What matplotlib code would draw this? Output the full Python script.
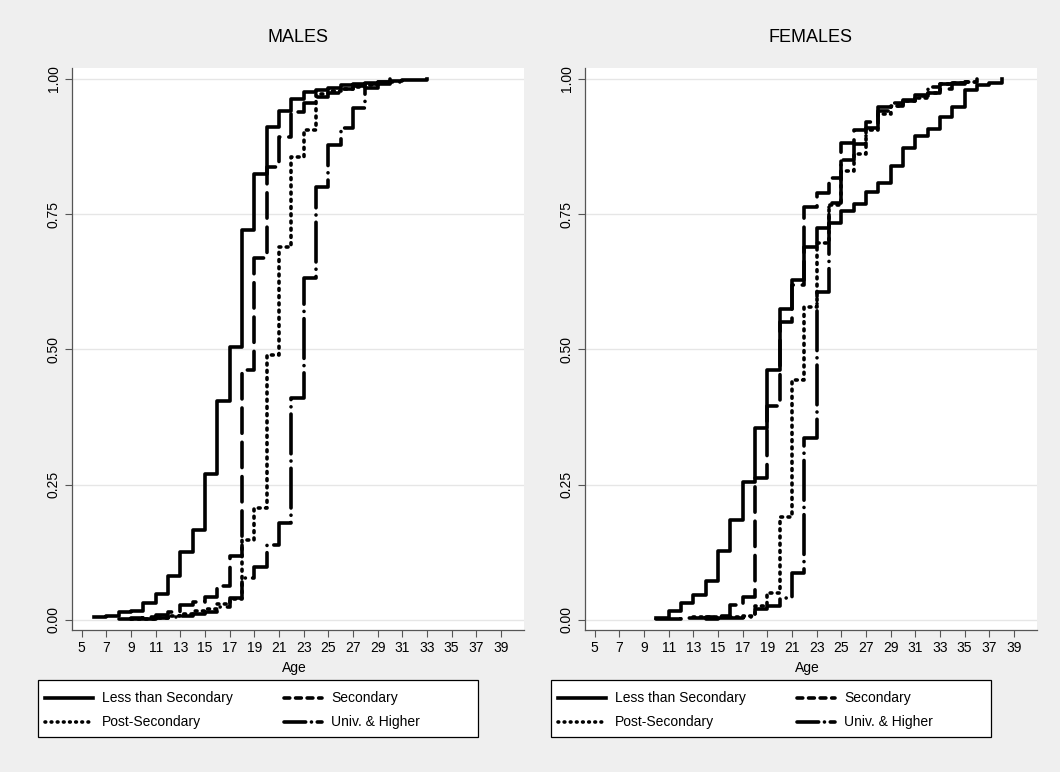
import matplotlib
matplotlib.use("Agg")
import matplotlib.pyplot as plt
from matplotlib.lines import Line2D
from matplotlib.patches import Rectangle

plt.rcParams['font.family'] = ['Liberation Sans', 'DejaVu Sans']

# ---- data: cumulative share by age -------------------------------------
male_less_age = list(range(6, 34))
male_less = [0.006, 0.008, 0.015, 0.016, 0.031, 0.048, 0.081, 0.126, 0.166,
             0.270, 0.405, 0.505, 0.720, 0.824, 0.911, 0.940, 0.963, 0.976,
             0.980, 0.984, 0.988, 0.991, 0.993, 0.995, 0.997, 0.998, 0.999,
             1.000]

male_sec_age = list(range(8, 31))
male_sec = [0.002, 0.003, 0.006, 0.009, 0.014, 0.027, 0.034, 0.043, 0.062,
            0.118, 0.462, 0.669, 0.837, 0.893, 0.939, 0.955, 0.967, 0.975,
            0.982, 0.987, 0.991, 0.995, 1.000]

male_post_age = list(range(9, 31))
male_post = [0.001, 0.002, 0.004, 0.007, 0.011, 0.016, 0.020, 0.030, 0.039,
             0.148, 0.207, 0.490, 0.690, 0.855, 0.905, 0.972, 0.977, 0.981,
             0.985, 0.989, 0.993, 0.996]

male_univ_age = list(range(9, 32))
male_univ = [0.001, 0.002, 0.003, 0.005, 0.008, 0.011, 0.015, 0.024, 0.040,
             0.077, 0.098, 0.138, 0.180, 0.410, 0.632, 0.800, 0.878, 0.909,
             0.946, 0.983, 0.990, 0.995, 1.000]

fem_less_age = list(range(10, 39))
fem_less = [0.004, 0.017, 0.031, 0.046, 0.072, 0.128, 0.185, 0.255, 0.355,
            0.462, 0.575, 0.628, 0.689, 0.725, 0.734, 0.756, 0.769, 0.791,
            0.808, 0.839, 0.872, 0.894, 0.907, 0.930, 0.949, 0.980, 0.989,
            0.993, 1.000]

fem_sec_age = list(range(10, 37))
fem_sec = [0.002, 0.002, 0.003, 0.004, 0.005, 0.008, 0.027, 0.043, 0.262,
           0.395, 0.550, 0.620, 0.763, 0.789, 0.817, 0.881, 0.906, 0.920,
           0.948, 0.955, 0.962, 0.968, 0.975, 0.982, 0.990, 0.995, 1.000]

fem_post_age = list(range(13, 37))
fem_post = [0.005, 0.005, 0.006, 0.006, 0.007, 0.025, 0.050, 0.190, 0.443,
            0.578, 0.697, 0.767, 0.830, 0.862, 0.905, 0.935, 0.950, 0.960,
            0.965, 0.975, 0.990, 0.993, 0.995, 1.000]

fem_univ_age = list(range(14, 37))
fem_univ = [0.002, 0.003, 0.004, 0.006, 0.020, 0.025, 0.040, 0.087, 0.336,
            0.606, 0.770, 0.850, 0.880, 0.910, 0.940, 0.950, 0.960, 0.970,
            0.985, 0.990, 0.992, 0.995, 1.000]

series_labels = ["Less than Secondary", "Secondary", "Post-Secondary",
                 "Univ. & Higher"]
panel_titles = ["MALES", "FEMALES"]
x_ticks = list(range(5, 40, 2))
y_ticks = [0.0, 0.25, 0.5, 0.75, 1.0]
y_ticklabels = ["0.00", "0.25", "0.50", "0.75", "1.00"]

# ---- styles -------------------------------------------------------------
LW = 2.6
styles = [
    dict(linestyle="-"),
    dict(linestyle=(0, (7, 2.5)), dash_capstyle="round"),
    dict(linestyle=(0, (0.5, 1.5)), dash_capstyle="round"),
    dict(linestyle=(0, (11, 2, 0.01, 2)), dash_capstyle="round"),
]
legend_styles = [
    dict(linestyle="-"),
    dict(linestyle=(0, (1.6, 1.6)), dash_capstyle="round"),
    dict(linestyle=(0, (0.2, 1.5)), dash_capstyle="round"),
    dict(linestyle=(0, (6.0, 1.6, 0.01, 1.6)), dash_capstyle="round"),
]

BG = "#efefef"
W, H = 1060, 772
fig = plt.figure(figsize=(W / 100, H / 100), dpi=100, facecolor=BG)


def fx(px):
    return px / W


def fy(py):
    return 1 - py / H


panels = [
    (72, [(male_less_age, male_less), (male_sec_age, male_sec),
          (male_post_age, male_post), (male_univ_age, male_univ)]),
    (585, [(fem_less_age, fem_less), (fem_sec_age, fem_sec),
           (fem_post_age, fem_post), (fem_univ_age, fem_univ)]),
]
ax_w, ax_top, ax_bot = 452, 68, 630

for i, (left_px, data) in enumerate(panels):
    ax = fig.add_axes([fx(left_px), fy(ax_bot), ax_w / W,
                       (ax_bot - ax_top) / H])
    ax.set_facecolor("white")
    for (xs, ys), st in zip(data, styles):
        ax.plot(xs, ys, drawstyle="steps-post", color="black", lw=LW, **st)

    ax.set_xlim(4.21, 40.87)
    ax.set_ylim(-0.0185, 1.0203)
    ax.set_xticks(x_ticks)
    ax.set_yticks(y_ticks)
    ax.set_yticklabels(y_ticklabels, rotation=90, va="center")
    for s in ("top", "right"):
        ax.spines[s].set_visible(False)
    for s in ("left", "bottom"):
        ax.spines[s].set_color("#555555")
        ax.spines[s].set_linewidth(0.9)
    ax.tick_params(direction="out", length=5, width=0.8, color="#555555",
                   labelsize=10, pad=3)
    ax.grid(axis="y", color="#e6e6e6", lw=1.0)
    ax.set_axisbelow(True)

    cx = left_px + ax_w / 2
    fig.text(fx(cx), fy(37), panel_titles[i], ha="center", va="center",
             fontsize=13)
    fig.text(fx(cx - 4), fy(668), "Age", ha="center", va="center",
             fontsize=10)

    # legend box: two rows, two columns
    bx, by0, by1, bw = left_px - 34, 680, 737, 440
    fig.patches.append(Rectangle((fx(bx), fy(by1)), bw / W, (by1 - by0) / H,
                                 transform=fig.transFigure, facecolor="white",
                                 edgecolor="black", lw=0.9, zorder=5))
    rows = [698, 722]
    cols = [(bx + 7, bx + 55, bx + 64), (bx + 246, bx + 284, bx + 293)]
    for k, (lab, st) in enumerate(zip(series_labels, legend_styles)):
        r, c = divmod(k, 2)
        h0, h1, tx = cols[c]
        fig.lines.append(Line2D([fx(h0), fx(h1)], [fy(rows[r])] * 2,
                                transform=fig.transFigure, color="black",
                                lw=LW, zorder=6, **st))
        fig.text(fx(tx), fy(rows[r]), lab, ha="left", va="center",
                 fontsize=10, zorder=6)

fig.savefig("out.png", dpi=100, facecolor=BG)
